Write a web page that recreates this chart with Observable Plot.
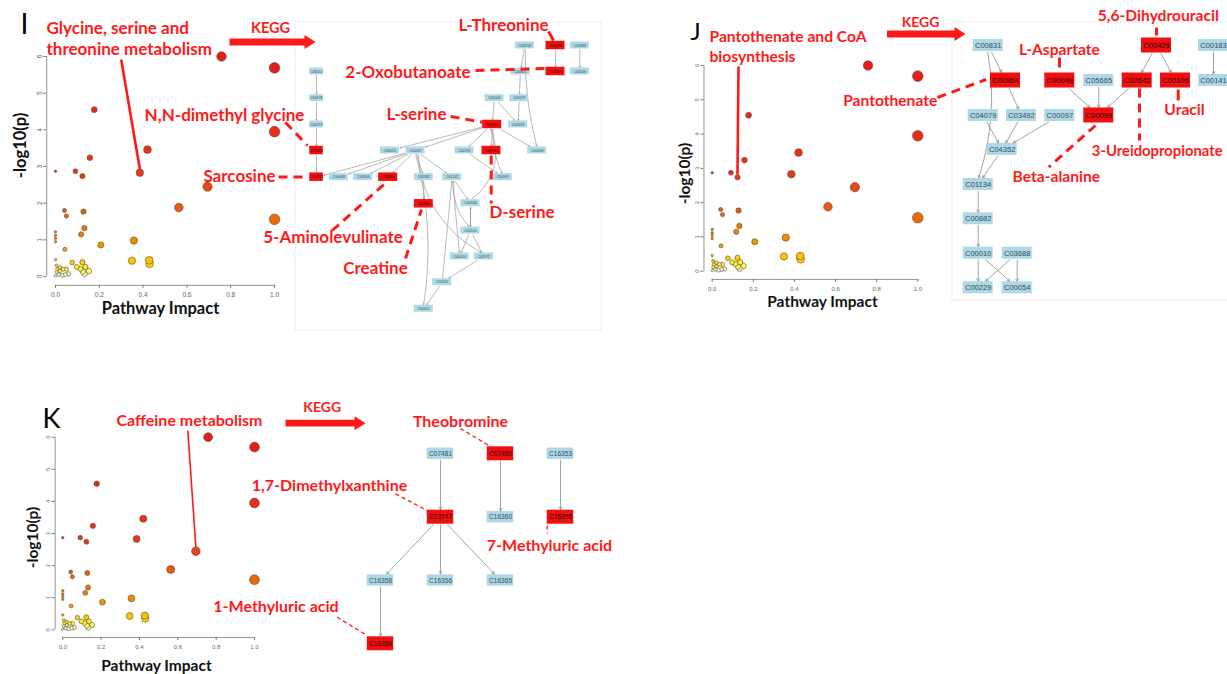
<!DOCTYPE html>
<html>
<head>
<meta charset="utf-8">
<script src="https://cdn.jsdelivr.net/npm/d3@7"></script>
<script src="https://cdn.jsdelivr.net/npm/@observablehq/plot@0.6"></script>
<style>
html, body { margin: 0; padding: 0; background: #fff; }
#fig { position: relative; width: 1227px; height: 674px; overflow: hidden; background: #fff; }
#fig > svg { position: absolute; max-width: none; overflow: visible; }
</style>
</head>
<body>
<div id="fig"></div>
<script>
// ---------- pathway overview: impact vs -log10(p), one dot per pathway ----------
const impact = [0.758, 1.0, 0.177, 1.0, 0.42, 0.157, 0.385, 0.0, 0.091, 0.123,
  0.694, 0.563, 1.0, 0.041, 0.05, 0.128, 0.132, 0.117, 0.0, 0.0,
  0.0, 0.0, 0.207, 0.358, 0.043, 0.0, 0.349, 0.428, 0.43, 0.076,
  0.123, 0.097, 0.113, 0.136, 0.152, 0.133, 0.005, 0.008, 0.005, 0.02,
  0.035, 0.05, 0.015, 0.03, 0.045, 0.06, 0.0, 0.02, 0.125];
const logp = [6.00, 5.69, 4.55, 3.95, 3.46, 3.24, 2.83, 2.87, 2.87, 2.74,
  2.45, 1.88, 1.56, 1.80, 1.65, 1.77, 1.32, 1.15, 1.22, 1.12,
  1.04, 0.95, 0.86, 0.98, 0.74, 0.46, 0.43, 0.44, 0.35, 0.38,
  0.39, 0.26, 0.21, 0.26, 0.15, 0.07, 0.30, 0.20, 0.12, 0.15,
  0.20, 0.20, 0.05, 0.03, 0.05, 0.07, 0.02, 0.25, 0.13];
const xTicks = [0, 0.2, 0.4, 0.6, 0.8, 1.0];
const yTicks = [0, 1, 2, 3, 4, 5, 6];

// ---------- KEGG maps: [compound, x, y, highlighted] and [from, to, bend] ----------
const glyNodes = [
  ["C00114", 316, 71, 0], ["C00576", 316, 97.7, 0], ["C00719", 316, 124, 0], ["C01026", 316, 150, 1], ["C00213", 316, 176.7, 1],
  ["C00258", 524.3, 45, 0], ["C00188", 555, 45, 1], ["C01888", 579.3, 45, 0],
  ["C00631", 520, 71, 0], ["C00109", 555, 71, 1], ["C00546", 579.3, 71, 0],
  ["C01005", 494, 97.7, 0], ["C00197", 518.7, 97.7, 0],
  ["C00065", 491.7, 124, 1], ["C03232", 517.7, 124, 0],
  ["C00022", 389.3, 150, 0], ["C00037", 415, 150, 0], ["C02291", 464, 150, 0], ["C00740", 491, 150, 1], ["C00168", 536.7, 150, 0],
  ["C00048", 338.3, 176.7, 0], ["C03508", 362.7, 176.7, 0], ["C00430", 387.7, 176.7, 1], ["C00581", 423.3, 176.7, 0], ["C01242", 451.7, 176.7, 0], ["C00097", 502.3, 176.7, 0],
  ["C00300", 423.3, 203.3, 1], ["C00143", 470, 202.7, 0],
  ["C00101", 470, 230, 0],
  ["C00014", 459.3, 256, 0], ["C02972", 483.3, 256, 0],
  ["C02051", 441.7, 281.7, 0],
  ["C00011", 423.3, 308.3, 0]
];
const glyColumn = ["C00114", "C00576", "C00719", "C01026", "C00213"];
const glyEdges = [
  ["C00114", "C00576", 0], ["C00576", "C00719", 0], ["C00719", "C01026", 0], ["C01026", "C00213", 0],
  ["C00258", "C00631", 0], ["C00258", "C00168", -8], ["C00188", "C00109", 0], ["C01888", "C00546", 0],
  ["C00631", "C00197", 0], ["C00197", "C03232", 0], ["C01005", "C00065", 0], ["C01005", "C03232", 0],
  ["C00065", "C00037", 0], ["C00065", "C00022", 0], ["C00065", "C02291", 0], ["C00065", "C00740", 0],
  ["C00065", "C00097", -15], ["C00065", "C00168", 0], ["C00143", "C00065", -40],
  ["C00037", "C00213", 0], ["C00037", "C00048", 0], ["C00037", "C03508", 0], ["C00037", "C00430", 0],
  ["C00037", "C00581", 0], ["C00037", "C01242", 0], ["C00037", "C00011", 12], ["C00037", "C02972", -30],
  ["C00581", "C00300", 0], ["C01242", "C00143", 0], ["C01242", "C00014", 0], ["C02051", "C01242", 0],
  ["C00143", "C00101", 0], ["C00101", "C00143", 0], ["C00101", "C00014", 0], ["C00101", "C02972", 0],
  ["C02972", "C02051", 0], ["C02051", "C00011", 0], ["C02291", "C00097", 0], ["C01242", "C00101", -25]
];

const panNodes = [
  ["C00831", 987.7, 45, 0], ["C00429", 1156, 45, 1], ["C00183", 1213, 45, 0],
  ["C00864", 1005, 80, 1], ["C00049", 1059.3, 80, 1], ["C05665", 1098.3, 80, 0], ["C02642", 1136.7, 80, 1], ["C00106", 1175, 80, 1], ["C00141", 1213, 80, 0],
  ["C04079", 982.7, 115, 0], ["C03492", 1021, 115, 0], ["C00097", 1059.3, 115, 0], ["C00099", 1098.3, 115, 1],
  ["C04352", 1001.7, 149, 0],
  ["C01134", 977.7, 184, 0],
  ["C00882", 977.7, 218.3, 0],
  ["C00010", 977.7, 252.7, 0], ["C03688", 1016.7, 252.7, 0],
  ["C00229", 977.7, 287.3, 0], ["C00054", 1016.7, 287.3, 0]
];
const panEdges = [
  ["C00831", "C00864", 0], ["C00831", "C01134", 14], ["C00864", "C03492", 0],
  ["C04079", "C04352", 0], ["C03492", "C04352", 0], ["C00097", "C04352", 0], ["C04352", "C01134", 0],
  ["C01134", "C00882", 0], ["C00882", "C00010", 0],
  ["C00010", "C00229", 0], ["C00010", "C00054", 0], ["C03688", "C00229", 0], ["C03688", "C00054", 0],
  ["C00049", "C00099", 0], ["C05665", "C00099", 0], ["C02642", "C00099", 0],
  ["C00429", "C02642", 0], ["C00429", "C00106", 0], ["C00183", "C00141", 0]
];

const cafNodes = [
  ["C07481", 440, 453.3, 0], ["C07480", 500, 453.3, 1], ["C16353", 560, 453.3, 0],
  ["C13747", 440, 516.7, 1], ["C16360", 500, 516.7, 0], ["C16355", 560, 516.7, 1],
  ["C16358", 380, 580, 0], ["C16356", 440, 580, 0], ["C16365", 500, 580, 0],
  ["C16359", 380, 643.3, 1]
];
const cafEdges = [
  ["C07481", "C13747", 0], ["C07480", "C16360", 0], ["C16353", "C16355", 0],
  ["C13747", "C16358", 0], ["C13747", "C16356", 0], ["C13747", "C16365", 0],
  ["C16358", "C16359", 0]
];

// ---------- palette ----------
const RED = "#ff1a1a";
const BOX_RED = "#f01010";
const BOX_BLUE = "#add8e6";
const LABEL_FONT = "Lato, 'Open Sans', sans-serif";

const fig = document.getElementById("fig");
function place(svg, left, top) {
  svg.style.left = left + "px";
  svg.style.top = top + "px";
  fig.appendChild(svg);
  return svg;
}

// ---------- scatter panels ----------
const pathways = impact.map((v, i) => ({impact: v, logp: logp[i]}))
  .sort((a, b) => b.impact - a.impact);

function scatter({left, top, width, height, x0, x1, y0, y6, rMax, tickSize}) {
  const ux = x1 - x0, uy = (y0 - y6) / 6;
  const plot = Plot.plot({
    width, height,
    marginLeft: x0 - left - 0.04 * ux,
    marginRight: left + width - (x1 + 0.04 * ux),
    marginTop: y6 - top - 0.24 * uy,
    marginBottom: top + height - (y0 + 0.24 * uy),
    style: {background: "transparent", fontFamily: "'Liberation Sans', Arial, sans-serif"},
    x: {domain: [-0.04, 1.04]},
    y: {domain: [-0.24, 6.24]},
    r: {type: "sqrt", domain: [0, 1], range: [1.2, rMax]},
    color: {
      type: "linear",
      domain: [0, 0.12, 0.3, 0.5, 1.0, 1.8, 2.8, 6],
      range: ["#ffffff", "#ffff80", "#ffe600", "#f8b400", "#f08a00", "#ec5c10", "#e8381a", "#e51c1a"]
    },
    marks: [
      Plot.ruleY([-0.24], {x1: 0, x2: 1, stroke: "#777", strokeWidth: 0.8}),
      Plot.ruleX([-0.04], {y1: 0, y2: 6, stroke: "#777", strokeWidth: 0.8}),
      Plot.axisX({ticks: xTicks, tickFormat: (d) => d.toFixed(1), tickSize: 3, tickPadding: 4,
        fontSize: tickSize, fill: "#666", stroke: "#777", label: null}),
      Plot.axisY({ticks: yTicks, tickFormat: (d) => String(d), tickSize: 3, tickRotate: -90, tickPadding: 2,
        fontSize: tickSize, fill: "#666", stroke: "#777", label: null}),
      Plot.dot(pathways, {x: "impact", y: "logp", r: "impact", fill: "logp",
        stroke: "#5a4a3a", strokeWidth: 0.6})
    ]
  });
  place(plot, left, top);
  const sx = plot.scale("x"), sy = plot.scale("y"), sr = plot.scale("r");
  // page position of the top edge of a pathway dot
  plot.dotTop = (d) => [left + sx.apply(d.impact), top + sy.apply(d.logp) - sr.apply(d.impact)];
  return plot;
}

const plotI = scatter({left: 0, top: 30, width: 300, height: 280, x0: 55, x1: 274, y0: 276, y6: 56, rMax: 5.3, tickSize: 6.5});
const plotJ = scatter({left: 660, top: 40, width: 280, height: 260, x0: 711.7, x1: 917.3, y0: 270.7, y6: 65, rMax: 5.3, tickSize: 6});
const plotK = scatter({left: 0, top: 410, width: 280, height: 250, x0: 62.3, x1: 254, y0: 629.3, y6: 436.7, rMax: 4.9, tickSize: 6});

// ---------- KEGG map helpers ----------
function nodeRows(nodes, box) {
  return nodes.map(([id, x, y, hit]) => {
    const [w, h] = box(id, hit);
    return {id, x, y, hit, w, h};
  });
}
// point where the segment from a toward b leaves a's box
function rim(a, b) {
  const dx = b.x - a.x, dy = b.y - a.y;
  const tx = dx ? (a.w / 2 + 0.6) / Math.abs(dx) : Infinity;
  const ty = dy ? (a.h / 2 + 0.6) / Math.abs(dy) : Infinity;
  const t = Math.min(tx, ty);
  return [a.x + dx * t, a.y + dy * t];
}
function edgeRows(rows, edges) {
  const at = new Map(rows.map((d) => [d.id, d]));
  return edges.map(([a, b, bend]) => {
    const p = at.get(a), q = at.get(b);
    const [x1, y1] = rim(p, q);
    const [x2, y2] = rim(q, p);
    return {x1, y1, x2, y2, bend};
  });
}
function mapMarks(rows, edges, {head, font, stroke, width}) {
  const groups = d3.groups(edgeRows(rows, edges), (d) => d.bend);
  return [
    ...groups.map(([bend, data]) => Plot.arrow(data, {x1: "x1", y1: "y1", x2: "x2", y2: "y2",
      bend, headLength: head, stroke, strokeWidth: width})),
    Plot.rect(rows, {x1: (d) => d.x - d.w / 2, x2: (d) => d.x + d.w / 2,
      y1: (d) => d.y - d.h / 2, y2: (d) => d.y + d.h / 2,
      fill: (d) => d.hit ? BOX_RED : BOX_BLUE}),
    Plot.text(rows, {x: "x", y: "y", text: "id", fontSize: font,
      fill: (d) => d.hit ? "#2a0000" : "#3a4a55",
      fontFamily: "'Liberation Sans', Arial, sans-serif"})
  ];
}

const glyRows = nodeRows(glyNodes, (id, hit) => [glyColumn.includes(id) ? 13.5 : 19, hit ? 8.5 : 7]);
const panRows = nodeRows(panNodes, (id, hit) => [30, hit ? 15 : 12]);
const cafRows = nodeRows(cafNodes, (id, hit) => [26.5, hit ? 14 : 11.5]);

// ---------- annotations ----------
const frames = [
  {x1: 295, y1: 22, x2: 601, y2: 330},
  {x1: 952, y1: 22, x2: 1240, y2: 300}
];
const panelLetters = [
  {text: "I", x: 20, y: 25, size: 28},
  {text: "J", x: 690, y: 32, size: 24},
  {text: "K", x: 42, y: 419, size: 27}
];
const axisTitles = [
  {text: "Pathway Impact", x: 160, y: 308, size: 16.5, rotate: 0},
  {text: "-log10(p)", x: 20, y: 145, size: 16.5, rotate: -90},
  {text: "Pathway Impact", x: 822, y: 302, size: 15.5, rotate: 0},
  {text: "-log10(p)", x: 685, y: 173, size: 15.5, rotate: -90},
  {text: "Pathway Impact", x: 156, y: 666, size: 15.5, rotate: 0},
  {text: "-log10(p)", x: 33, y: 537, size: 15.5, rotate: -90}
];
// pathway names, set flush left
const pathwayNames = [
  {text: "Glycine, serine and", x: 46, y: 28, size: 17},
  {text: "threonine metabolism", x: 46, y: 49.5, size: 17},
  {text: "Pantothenate and CoA", x: 709, y: 36, size: 15.6},
  {text: "biosynthesis", x: 709, y: 56, size: 15.6}
];
// compound names and map arrows, centred
const redLabels = [
  {text: "KEGG", x: 270, y: 28, size: 14.5},
  {text: "L-Threonine", x: 503, y: 25, size: 17},
  {text: "2-Oxobutanoate", x: 407.5, y: 72, size: 17},
  {text: "N,N-dimethyl glycine", x: 224, y: 115, size: 17},
  {text: "L-serine", x: 416, y: 114, size: 17},
  {text: "Sarcosine", x: 239, y: 176, size: 17},
  {text: "D-serine", x: 521.5, y: 212, size: 17},
  {text: "5-Aminolevulinate", x: 332.5, y: 237, size: 17},
  {text: "Creatine", x: 375, y: 268, size: 17},

  {text: "KEGG", x: 920, y: 22.5, size: 14},
  {text: "5,6-Dihydrouracil", x: 1157.8, y: 15, size: 15.6},
  {text: "L-Aspartate", x: 1059, y: 49, size: 15.6},
  {text: "Pantothenate", x: 889.7, y: 100, size: 15.6},
  {text: "Uracil", x: 1184, y: 109, size: 15.6},
  {text: "3-Ureidopropionate", x: 1156.7, y: 151, size: 14.8},
  {text: "Beta-alanine", x: 1055.8, y: 176, size: 15.6},

  {text: "Caffeine metabolism", x: 189, y: 420, size: 16},
  {text: "KEGG", x: 321.7, y: 406.7, size: 14},
  {text: "Theobromine", x: 460, y: 421, size: 16},
  {text: "1,7-Dimethylxanthine", x: 329, y: 485, size: 16},
  {text: "7-Methyluric acid", x: 549, y: 545, size: 16},
  {text: "1-Methyluric acid", x: 275.5, y: 606, size: 16}
];
const heavyDashes = [
  {x1: 285, y1: 122, x2: 307, y2: 145},
  {x1: 278, y1: 176.5, x2: 306, y2: 176.5},
  {x1: 331.7, y1: 230, x2: 386.7, y2: 181},
  {x1: 405, y1: 258, x2: 421, y2: 209},
  {x1: 490.7, y1: 155, x2: 490.7, y2: 203},
  {x1: 450, y1: 116, x2: 484, y2: 122},
  {x1: 475, y1: 70, x2: 545, y2: 68},
  {x1: 1139, y1: 88, x2: 1139, y2: 140},
  {x1: 1095, y1: 125, x2: 1048.3, y2: 166.7},
  {x1: 937, y1: 97, x2: 985.7, y2: 79}
];
const shortTicks = [
  {x1: 548, y1: 31, x2: 553, y2: 40},
  {x1: 1156, y1: 27, x2: 1156, y2: 35},
  {x1: 1059, y1: 57, x2: 1059, y2: 67},
  {x1: 1177.7, y1: 89, x2: 1177.7, y2: 100}
];
const lightDashes = [
  {x1: 460, y1: 428, x2: 488.3, y2: 445},
  {x1: 395, y1: 493.3, x2: 426.7, y2: 510},
  {x1: 546.7, y1: 525, x2: 546.7, y2: 533},
  {x1: 336.7, y1: 616.7, x2: 366.7, y2: 635}
];
// leader lines from the pathway names down to their dots
const pick = (i, j) => pathways.find((d) => d.impact === i && d.logp === j);
const leaders = [
  {from: [120.7, 59], to: plotI.dotTop(pick(0.385, 2.83)), w: 2.6},
  {from: [738, 66], to: plotJ.dotTop(pick(0.123, 2.74)), w: 2.6},
  {from: [187.3, 430], to: plotK.dotTop(pick(0.694, 2.45)), w: 1.6}
].map(({from, to, w}) => ({x1: from[0], y1: from[1], x2: to[0], y2: to[1], w}));

// thick red "KEGG" arrows as filled polygons
const keggArrows = [
  {id: "I", x1: 229, x2: 315, y: 41.5},
  {id: "J", x1: 886.5, x2: 965, y: 33.5},
  {id: "K", x1: 285, x2: 365, y: 422.7}
];
const arrowOutline = keggArrows.flatMap(({id, x1, x2, y}) => {
  const s = 3.4, hw = 7, hl = 11;
  return [[x1, y - s], [x2 - hl, y - s], [x2 - hl, y - hw], [x2, y], [x2 - hl, y + hw],
    [x2 - hl, y + s], [x1, y + s], [x1, y - s]].map(([x, yy]) => ({id, x, y: yy}));
});

const overlay = Plot.plot({
  width: 1227, height: 674,
  margin: 0,
  style: {background: "transparent"},
  x: {type: "identity", axis: null},
  y: {type: "identity", axis: null},
  marks: [
    Plot.rect(frames, {x1: "x1", y1: "y1", x2: "x2", y2: "y2", fill: "none", stroke: "#ececec", strokeWidth: 1}),
    ...mapMarks(glyRows, glyEdges, {head: 3, font: 3.6, stroke: "#8a8a8a", width: 0.6}),
    ...mapMarks(panRows, panEdges, {head: 5, font: 7.6, stroke: "#8a8a8a", width: 0.8}),
    ...mapMarks(cafRows, cafEdges, {head: 5, font: 6.6, stroke: "#9a9a9a", width: 0.9}),
    Plot.line(arrowOutline, {x: "x", y: "y", z: "id", fill: RED, stroke: "none"}),
    Plot.link(heavyDashes, {x1: "x1", y1: "y1", x2: "x2", y2: "y2", stroke: RED, strokeWidth: 3, strokeDasharray: "9,6"}),
    Plot.link(shortTicks, {x1: "x1", y1: "y1", x2: "x2", y2: "y2", stroke: RED, strokeWidth: 3}),
    Plot.link(lightDashes, {x1: "x1", y1: "y1", x2: "x2", y2: "y2", stroke: RED, strokeWidth: 1.3, strokeDasharray: "4,3"}),
    Plot.link(leaders, {x1: "x1", y1: "y1", x2: "x2", y2: "y2", stroke: RED, strokeWidth: "w"}),
    Plot.text(pathwayNames, {x: "x", y: "y", text: "text", textAnchor: "start", fontSize: "size",
      fill: RED, fontWeight: "bold", fontFamily: LABEL_FONT}),
    Plot.text(redLabels, {x: "x", y: "y", text: "text", textAnchor: "middle", fontSize: "size",
      fill: RED, fontWeight: "bold", fontFamily: LABEL_FONT}),
    Plot.text(axisTitles.filter((d) => !d.rotate), {x: "x", y: "y", text: "text", fontSize: "size",
      fill: "#111", fontWeight: "bold", fontFamily: LABEL_FONT}),
    Plot.text(axisTitles.filter((d) => d.rotate), {x: "x", y: "y", text: "text", fontSize: "size", rotate: -90,
      fill: "#111", fontWeight: "bold", fontFamily: LABEL_FONT}),
    Plot.text(panelLetters, {x: "x", y: "y", text: "text", fontSize: "size", textAnchor: "start",
      fill: "#000", fontFamily: LABEL_FONT})
  ]
});
overlay.style.pointerEvents = "none";
place(overlay, 0, 0);
</script>
</body>
</html>
